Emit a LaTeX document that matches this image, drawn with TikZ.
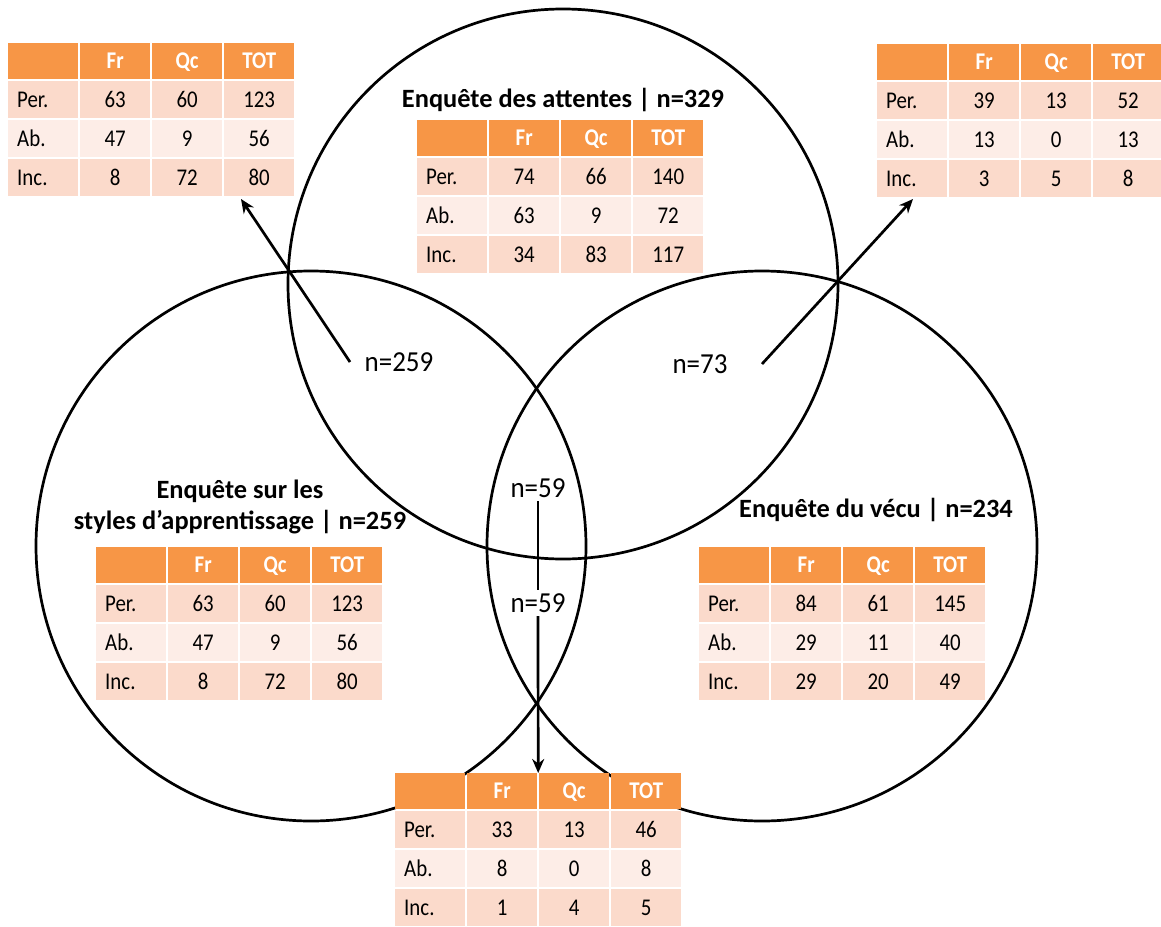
\documentclass[tikz,border=0pt]{standalone}
\usepackage{fontspec}
\setmainfont{Carlito}
\newfontfamily\narrowfam{Carlito}[FakeStretch=0.87]
\newfontfamily\nlabfam{Carlito}[FakeStretch=0.93]
\usetikzlibrary{matrix,arrows.meta}
\definecolor{hdr}{HTML}{F79646}
\definecolor{bandA}{HTML}{FBDACB}
\definecolor{bandB}{HTML}{FDEDE7}
\newcommand\tabfont{\narrowfam\fontsize{24}{27}\selectfont}
\newcommand\ttlfont{\fontsize{26.4}{31}\selectfont\bfseries}
\newcommand\nfont{\nlabfam\fontsize{29}{32}\selectfont}
\tikzset{
  venn/.style={circle, draw, line width=2.7pt, minimum size=550pt, inner sep=0pt},
  tbl/.style={matrix of nodes, nodes in empty cells, anchor=north west,
    column sep=2pt, row sep=2pt, inner sep=0pt,
    nodes={anchor=center, inner sep=0pt, text width=70pt, align=center,
      minimum height=37pt, text height=17pt, text depth=2pt,
      font=\tabfont, fill=bandA},
    column 1/.style={nodes={text width=52pt, align=left, inner xsep=9pt}},
    row 1/.style={nodes={fill=hdr, text=white, font=\tabfont\bfseries, minimum height=36pt}},
    row 3/.style={nodes={fill=bandB}}},
  ttl/.style={font=\ttlfont, align=center},
  nlab/.style={font=\nfont},
  conn/.style={line width=2.7pt},
  arr/.style={conn, -{Stealth[length=14pt,width=12pt]}}
}
\begin{document}
\begin{tikzpicture}[x=1pt,y=-1pt]
\useasboundingbox (0,0) rectangle (1161,926);
% circles
\node[venn] (cT) at (563,284) {};
\node[venn] (cL) at (311,546) {};
\node[venn] (cR) at (762,546) {};
% tables
\matrix[tbl] (t1) at (8,43) {
   & Fr & Qc & TOT \\
  Per. & 63 & 60 & 123 \\
  Ab. & 47 & 9 & 56 \\
  Inc. & 8 & 72 & 80 \\
};
\matrix[tbl] (t2) at (417,120) {
   & Fr & Qc & TOT \\
  Per. & 74 & 66 & 140 \\
  Ab. & 63 & 9 & 72 \\
  Inc. & 34 & 83 & 117 \\
};
\matrix[tbl] (t3) at (877,44) {
   & Fr & Qc & TOT \\
  Per. & 39 & 13 & 52 \\
  Ab. & 13 & 0 & 13 \\
  Inc. & 3 & 5 & 8 \\
};
\matrix[tbl] (t4) at (96,547) {
   & Fr & Qc & TOT \\
  Per. & 63 & 60 & 123 \\
  Ab. & 47 & 9 & 56 \\
  Inc. & 8 & 72 & 80 \\
};
\matrix[tbl] (t5) at (699,547) {
   & Fr & Qc & TOT \\
  Per. & 84 & 61 & 145 \\
  Ab. & 29 & 11 & 40 \\
  Inc. & 29 & 20 & 49 \\
};
\matrix[tbl] (t6) at (395,773) {
   & Fr & Qc & TOT \\
  Per. & 33 & 13 & 46 \\
  Ab. & 8 & 0 & 8 \\
  Inc. & 1 & 4 & 5 \\
};
% titles
\node[ttl] (h1) at (563,100) {Enquête des attentes | n=329};
\node[ttl] (h2) at (240,507) {Enquête sur les\\styles d’apprentissage | n=259};
\node[ttl] (h3) at (876,510) {Enquête du vécu | n=234};
% intersection labels
\node[nlab] (n259) at (399,362) {n=259};
\node[nlab] (n73) at (700,364) {n=73};
\node[nlab] (n59a) at (538,488) {n=59};
\node[nlab] (n59b) at (538,603) {n=59};
% connectors
\coordinate (s1) at (350,362);
\coordinate (e1) at (241,199);
\coordinate (s2) at (762,364);
\coordinate (e2) at (913,199);
\draw[arr] (s1) -- (e1);
\draw[arr] (s2) -- (e2);
\draw[conn] (n59a.south) -- (n59b.north);
\draw[arr] (n59b.south) -- (t6.north);
\end{tikzpicture}
\end{document}
